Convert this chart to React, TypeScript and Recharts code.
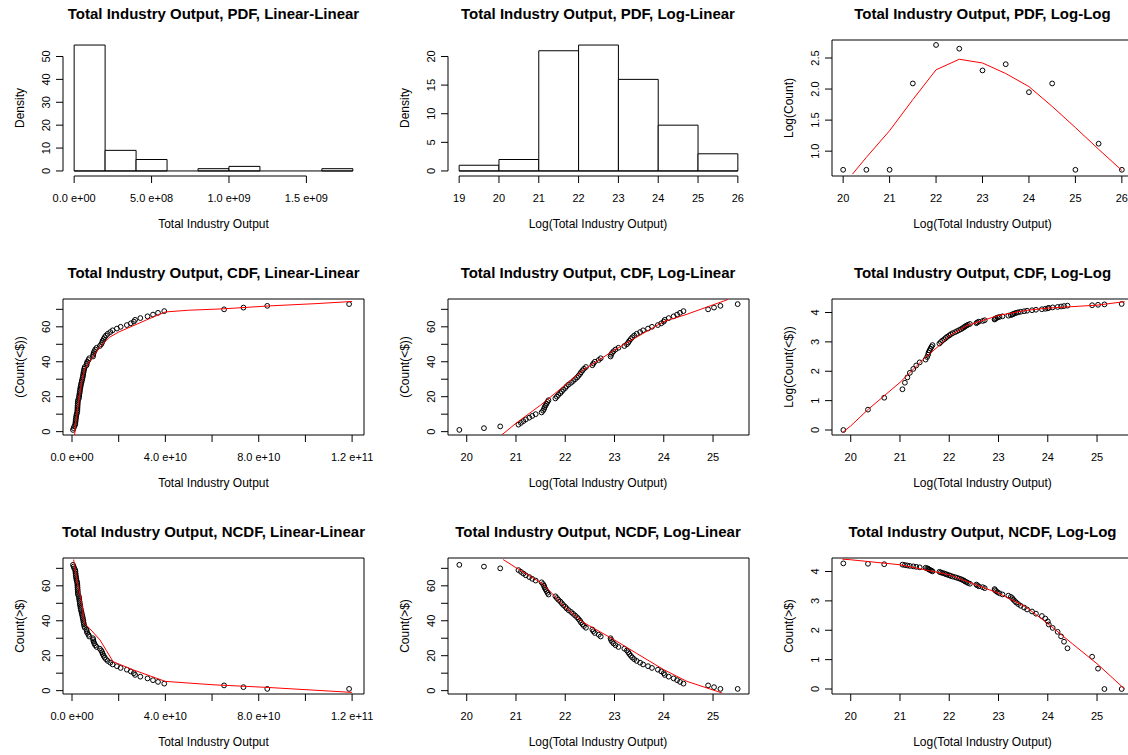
import React from 'react';
import { ScatterChart, Scatter, XAxis, YAxis, ReferenceArea, ReferenceLine } from 'recharts';

const FONT = '"Liberation Sans", Arial, Helvetica, sans-serif';

// PDF histogram of raw output (bins of 2e8)
const rawBreaks = [0, 2e8, 4e8, 6e8, 8e8, 1.0e9, 1.2e9, 1.4e9, 1.6e9, 1.8e9];
const rawCounts = [55, 9, 5, 0, 1, 2, 0, 0, 1];

// PDF histogram of log output
const logBreaks = [19, 20, 21, 22, 23, 24, 25, 26];
const logCounts = [1, 2, 21, 22, 16, 8, 3];

// binned log-log PDF points
const pdfBinX = [20, 20.5, 21, 21.5, 22, 22.5, 23, 23.5, 24, 24.5, 25, 25.5, 26];
const pdfBinLogCount = [0.7, 0.7, 0.7, 2.09, 2.71, 2.65, 2.3, 2.4, 1.95, 2.09, 0.7, 1.12, 0.7];

// sorted log(total industry output), one value per industry (73)
const logOutput = [
  19.85, 20.35, 20.68, 21.05, 21.1, 21.15, 21.2, 21.27, 21.33, 21.4,
  21.52, 21.55, 21.57, 21.58, 21.6, 21.62, 21.64, 21.66, 21.8, 21.83,
  21.86, 21.9, 21.93, 21.96, 22.0, 22.03, 22.07, 22.12, 22.16, 22.2,
  22.24, 22.27, 22.3, 22.32, 22.35, 22.38, 22.42, 22.55, 22.57, 22.6,
  22.68, 22.72, 22.92, 22.93, 22.95, 22.98, 23.02, 23.08, 23.2, 23.25,
  23.28, 23.3, 23.33, 23.36, 23.4, 23.45, 23.52, 23.58, 23.68, 23.76,
  23.88, 23.95, 24.0, 24.02, 24.1, 24.2, 24.27, 24.33, 24.4, 24.9,
  25.02, 25.15, 25.5,
];

// red fitted curves
const fitPdfLogLog: [number, number][] = [
  [20.2, 0.63], [20.5, 0.9], [21, 1.33], [21.5, 1.83], [22, 2.31], [22.5, 2.48], [23, 2.42],
  [23.5, 2.25], [24, 2.04], [24.5, 1.72], [25, 1.38], [25.5, 1.03], [26, 0.69],
];
const fitCdfLin: [number, number][] = [
  [0.11e10, -1.9], [0.21e10, 10.5], [0.4e10, 27.5], [0.55e10, 36], [0.9e10, 43], [1.2e10, 48.5],
  [1.6e10, 54], [2.0e10, 57], [2.6e10, 60.5], [3.2e10, 64], [4.0e10, 68.5], [5.0e10, 69.5],
  [6.5e10, 70.3], [8.5e10, 72], [10.5e10, 73.3], [12.0e10, 74.5],
];
const fitCdfLogLin: [number, number][] = [
  [20.71, -1.9], [21.0, 4.8], [21.5, 15.2], [22.0, 26.7], [22.35, 35], [23.0, 46.7],
  [23.4, 53.3], [24.0, 63], [24.45, 67], [25.3, 75.6],
];
const fitCdfLogLog: [number, number][] = [
  [19.83, -0.09], [20.0, 0.14], [20.36, 0.71], [21.0, 1.62], [21.5, 2.45], [21.8, 2.88],
  [22.0, 3.2], [22.35, 3.55], [23.0, 3.9], [23.55, 4.07], [24.0, 4.15], [25.0, 4.25], [25.56, 4.37],
];
const fitNcdfLin: [number, number][] = [
  [0.07e10, 75], [0.21e10, 63], [0.4e10, 51.5], [0.54e10, 38.5], [0.76e10, 35.5], [1.2e10, 29],
  [1.47e10, 23], [1.76e10, 16.6], [2.6e10, 12], [4.0e10, 5.3], [6.0e10, 3.4], [8.3e10, 1.9],
  [12.0e10, -1],
];
const fitNcdfLogLin: [number, number][] = [
  [20.74, 75], [21.0, 70.4], [21.55, 61], [22.0, 47.7], [22.36, 39.2], [23.0, 29],
  [23.45, 21.3], [24.0, 12], [24.47, 5.3], [25.18, -1.3],
];
const fitNcdfLogLog: [number, number][] = [
  [19.83, 4.42], [20.0, 4.4], [21.0, 4.23], [22.0, 3.89], [23.0, 3.26], [23.55, 2.8],
  [24.0, 2.23], [24.5, 1.54], [25.0, 0.86], [25.56, 0],
];

// ticks and tick labels
const rawPdfTicks = [0, 5e8, 1e9, 1.5e9];
const rawPdfTickLabels = ['0.0 e+00', '5.0 e+08', '1.0 e+09', '1.5 e+09'];
const rawPdfYTicks = [0, 10, 20, 30, 40, 50];
const logPdfTicks = [19, 20, 21, 22, 23, 24, 25, 26];
const logPdfYTicks = [0, 5, 10, 15, 20];
const pdfLogLogXTicks = [20, 21, 22, 23, 24, 25, 26];
const pdfLogLogYTicks = [1.0, 1.5, 2.0, 2.5];
const pdfLogLogYLabels = ['1.0', '1.5', '2.0', '2.5'];
const rawCdfTicks = [0, 2e10, 4e10, 6e10, 8e10, 1e11, 1.2e11];
const rawCdfTickLabels = ['0.0 e+00', '', '4.0 e+10', '', '8.0 e+10', '', '1.2 e+11'];
const logXTicks = [20, 21, 22, 23, 24, 25];
const countTicks = [0, 10, 20, 30, 40, 50, 60, 70];
const countTickLabels = ['0', '', '20', '', '40', '', '60', ''];
const logCountTicks = [0, 1, 2, 3, 4];

const titles = [
  ['Total Industry Output, PDF, Linear-Linear', 'Total Industry Output', 'Density'],
  ['Total Industry Output, PDF, Log-Linear', 'Log(Total Industry Output)', 'Density'],
  ['Total Industry Output, PDF, Log-Log', 'Log(Total Industry Output)', 'Log(Count)'],
  ['Total Industry Output, CDF, Linear-Linear', 'Total Industry Output', '(Count(<$))'],
  ['Total Industry Output, CDF, Log-Linear', 'Log(Total Industry Output)', '(Count(<$))'],
  ['Total Industry Output, CDF, Log-Log', 'Log(Total Industry Output)', 'Log(Count(<$))'],
  ['Total Industry Output, NCDF, Linear-Linear', 'Total Industry Output', 'Count(>$)'],
  ['Total Industry Output, NCDF, Log-Linear', 'Log(Total Industry Output)', 'Count(>$)'],
  ['Total Industry Output, NCDF, Log-Log', 'Log(Total Industry Output)', 'Count(>$)'],
];

// layout
const PW = 301;
const PH = 136;
const ML = 70;
const MT = 40;
const MR = 40;
const XH = 60;
const COL_X = [63, 447.5, 832];
const ROW_Y = [40, 299, 558];

const labelFor = (ticks: number[], labels: string[] | undefined, v: number) => {
  const i = ticks.findIndex((t) => Math.abs(t - v) < Math.abs(t) * 1e-9 + 1e-9);
  if (!labels) return String(v);
  return i >= 0 ? labels[i] : '';
};

const Ring = (p: any) => (
  <circle cx={p.cx} cy={p.cy} r={2.4} fill="none" stroke="#000" strokeWidth={1} />
);
const NoShape = () => <g />;

type PanelProps = {
  col: number;
  row: number;
  xDomain: [number, number];
  yDomain: [number, number];
  xTicks: number[];
  xLabels?: string[];
  yTicks: number[];
  yLabels?: string[];
  children: React.ReactNode;
};

function Panel({ col, row, xDomain, yDomain, xTicks, xLabels, yTicks, yLabels, children }: PanelProps) {
  const xTick = (p: any) => {
    const s = labelFor(xTicks, xLabels, p.payload.value);
    return (
      <text x={p.x} y={p.y + 17} textAnchor="middle" fontSize={11} fontFamily={FONT} fill="#000">
        {s}
      </text>
    );
  };
  const yTick = (p: any) => {
    const s = labelFor(yTicks, yLabels, p.payload.value);
    return (
      <text
        transform={`translate(${p.x - 4},${p.y}) rotate(-90)`}
        textAnchor="middle"
        fontSize={11}
        fontFamily={FONT}
        fill="#000"
      >
        {s}
      </text>
    );
  };
  return (
    <div style={{ position: 'absolute', left: COL_X[col] - ML, top: ROW_Y[row] - MT }}>
      <ScatterChart
        width={ML + PW + MR}
        height={MT + PH + XH}
        margin={{ top: MT, right: MR, bottom: 0, left: 0 }}
      >
        <XAxis
          type="number"
          dataKey="x"
          domain={xDomain}
          allowDataOverflow
          ticks={xTicks}
          interval={0}
          height={XH}
          axisLine={false}
          tickLine={{ stroke: '#000', strokeWidth: 1 }}
          tickSize={7}
          tick={xTick}
        />
        <YAxis
          type="number"
          dataKey="y"
          domain={yDomain}
          allowDataOverflow
          ticks={yTicks}
          interval={0}
          width={ML}
          axisLine={false}
          tickLine={{ stroke: '#000', strokeWidth: 1 }}
          tickSize={7}
          tick={yTick}
        />
        {children}
      </ScatterChart>
    </div>
  );
}

const toPts = (arr: [number, number][]) => arr.map(([x, y]) => ({ x, y }));

const boxArea = (xd: [number, number], yd: [number, number]) => (
  <ReferenceArea
    x1={xd[0]}
    x2={xd[1]}
    y1={yd[0]}
    y2={yd[1]}
    fill="none"
    stroke="#000"
    strokeWidth={1}
    ifOverflow="visible"
  />
);

const fitLine = (arr: [number, number][]) => (
  <Scatter
    data={toPts(arr)}
    fill="#ff0000"
    line={{ stroke: '#ff0000', strokeWidth: 1 }}
    shape={NoShape}
    isAnimationActive={false}
  />
);

const histogram = (
  breaks: number[],
  counts: number[],
  xd: [number, number],
  yd: [number, number],
  xTicks: number[],
  yTicks: number[]
) => [
  <Scatter
    key="anchor"
    data={counts.map((c, i) => ({ x: breaks[i], y: c }))}
    shape={NoShape}
    isAnimationActive={false}
  />,
  ...counts.map((c, i) =>
    c > 0 ? (
      <ReferenceArea
        key={'b' + i}
        x1={breaks[i]}
        x2={breaks[i + 1]}
        y1={0}
        y2={c}
        fill="#fff"
        fillOpacity={1}
        stroke="#000"
        strokeWidth={1}
        ifOverflow="visible"
      />
    ) : null
  ),
  <ReferenceLine
    key="base"
    segment={[
      { x: breaks[0], y: 0 },
      { x: breaks[breaks.length - 1], y: 0 },
    ]}
    stroke="#000"
    strokeWidth={1}
    ifOverflow="visible"
  />,
  <ReferenceLine
    key="xaxis"
    segment={[
      { x: xTicks[0], y: yd[0] },
      { x: xTicks[xTicks.length - 1], y: yd[0] },
    ]}
    stroke="#000"
    strokeWidth={1}
    ifOverflow="visible"
  />,
  <ReferenceLine
    key="yaxis"
    segment={[
      { x: xd[0], y: yTicks[0] },
      { x: xd[0], y: yTicks[yTicks.length - 1] },
    ]}
    stroke="#000"
    strokeWidth={1}
    ifOverflow="visible"
  />,
];

export default function App() {
  const n = logOutput.length;
  const cdfLin = logOutput.map((v, i) => ({ x: Math.exp(v), y: i + 1 }));
  const cdfLogLin = logOutput.map((v, i) => ({ x: v, y: i + 1 }));
  const cdfLogLog = logOutput.map((v, i) => ({ x: v, y: Math.log(i + 1) }));
  // count strictly above, floored at 1 as in the source plots
  const above = logOutput.map((_, i) => Math.max(n - 1 - i, 1));
  const ncdfLin = logOutput.map((v, i) => ({ x: Math.exp(v), y: above[i] }));
  const ncdfLogLin = logOutput.map((v, i) => ({ x: v, y: above[i] }));
  const ncdfLogLog = logOutput.map((v, i) => ({ x: v, y: Math.log(above[i]) }));
  const pdfLogLog = pdfBinX.map((x, i) => ({ x, y: pdfBinLogCount[i] }));

  const d1x: [number, number] = [-7.2e7, 1.872e9];
  const d1y: [number, number] = [-2.2, 57.2];
  const d2x: [number, number] = [18.72, 26.28];
  const d2y: [number, number] = [-0.88, 22.88];
  const d3x: [number, number] = [19.76, 26.24];
  const d3y: [number, number] = [0.6, 2.79];
  const linX: [number, number] = [-3.86e9, 1.251e11];
  const logX: [number, number] = [19.62, 25.73];
  const cntY: [number, number] = [-1.92, 75.92];
  const lcntY: [number, number] = [-0.17, 4.46];

  return (
    <div
      style={{
        position: 'absolute',
        left: 0,
        top: 0,
        width: 1128,
        height: 755,
        overflow: 'hidden',
        background: '#fff',
      }}
    >
      <Panel col={0} row={0} xDomain={d1x} yDomain={d1y} xTicks={rawPdfTicks} xLabels={rawPdfTickLabels} yTicks={rawPdfYTicks}>
        {histogram(rawBreaks, rawCounts, d1x, d1y, rawPdfTicks, rawPdfYTicks)}
      </Panel>
      <Panel col={1} row={0} xDomain={d2x} yDomain={d2y} xTicks={logPdfTicks} yTicks={logPdfYTicks}>
        {histogram(logBreaks, logCounts, d2x, d2y, logPdfTicks, logPdfYTicks)}
      </Panel>
      <Panel col={2} row={0} xDomain={d3x} yDomain={d3y} xTicks={pdfLogLogXTicks} yTicks={pdfLogLogYTicks} yLabels={pdfLogLogYLabels}>
        {boxArea(d3x, d3y)}
        <Scatter data={pdfLogLog} shape={Ring} isAnimationActive={false} />
        {fitLine(fitPdfLogLog)}
      </Panel>

      <Panel col={0} row={1} xDomain={linX} yDomain={cntY} xTicks={rawCdfTicks} xLabels={rawCdfTickLabels} yTicks={countTicks} yLabels={countTickLabels}>
        {boxArea(linX, cntY)}
        <Scatter data={cdfLin} shape={Ring} isAnimationActive={false} />
        {fitLine(fitCdfLin)}
      </Panel>
      <Panel col={1} row={1} xDomain={logX} yDomain={cntY} xTicks={logXTicks} yTicks={countTicks} yLabels={countTickLabels}>
        {boxArea(logX, cntY)}
        <Scatter data={cdfLogLin} shape={Ring} isAnimationActive={false} />
        {fitLine(fitCdfLogLin)}
      </Panel>
      <Panel col={2} row={1} xDomain={logX} yDomain={lcntY} xTicks={logXTicks} yTicks={logCountTicks}>
        {boxArea(logX, lcntY)}
        <Scatter data={cdfLogLog} shape={Ring} isAnimationActive={false} />
        {fitLine(fitCdfLogLog)}
      </Panel>

      <Panel col={0} row={2} xDomain={linX} yDomain={cntY} xTicks={rawCdfTicks} xLabels={rawCdfTickLabels} yTicks={countTicks} yLabels={countTickLabels}>
        {boxArea(linX, cntY)}
        <Scatter data={ncdfLin} shape={Ring} isAnimationActive={false} />
        {fitLine(fitNcdfLin)}
      </Panel>
      <Panel col={1} row={2} xDomain={logX} yDomain={cntY} xTicks={logXTicks} yTicks={countTicks} yLabels={countTickLabels}>
        {boxArea(logX, cntY)}
        <Scatter data={ncdfLogLin} shape={Ring} isAnimationActive={false} />
        {fitLine(fitNcdfLogLin)}
      </Panel>
      <Panel col={2} row={2} xDomain={logX} yDomain={lcntY} xTicks={logXTicks} yTicks={logCountTicks}>
        {boxArea(logX, lcntY)}
        <Scatter data={ncdfLogLog} shape={Ring} isAnimationActive={false} />
        {fitLine(fitNcdfLogLog)}
      </Panel>

      <svg
        width={1128}
        height={755}
        style={{ position: 'absolute', left: 0, top: 0, pointerEvents: 'none' }}
      >
        {titles.map(([t, xt, yt], k) => {
          const col = k % 3;
          const row = Math.floor(k / 3);
          const cx = COL_X[col] + PW / 2;
          const top = ROW_Y[row];
          return (
            <g key={k} fontFamily={FONT} fill="#000">
              <text x={cx} y={top - 21} textAnchor="middle" fontSize={15} fontWeight="bold">
                {t}
              </text>
              <text x={cx} y={top + PH + 52} textAnchor="middle" fontSize={12}>
                {xt}
              </text>
              <text
                transform={`translate(${COL_X[col] - 39},${top + PH / 2}) rotate(-90)`}
                textAnchor="middle"
                fontSize={12}
              >
                {yt}
              </text>
            </g>
          );
        })}
      </svg>
    </div>
  );
}
